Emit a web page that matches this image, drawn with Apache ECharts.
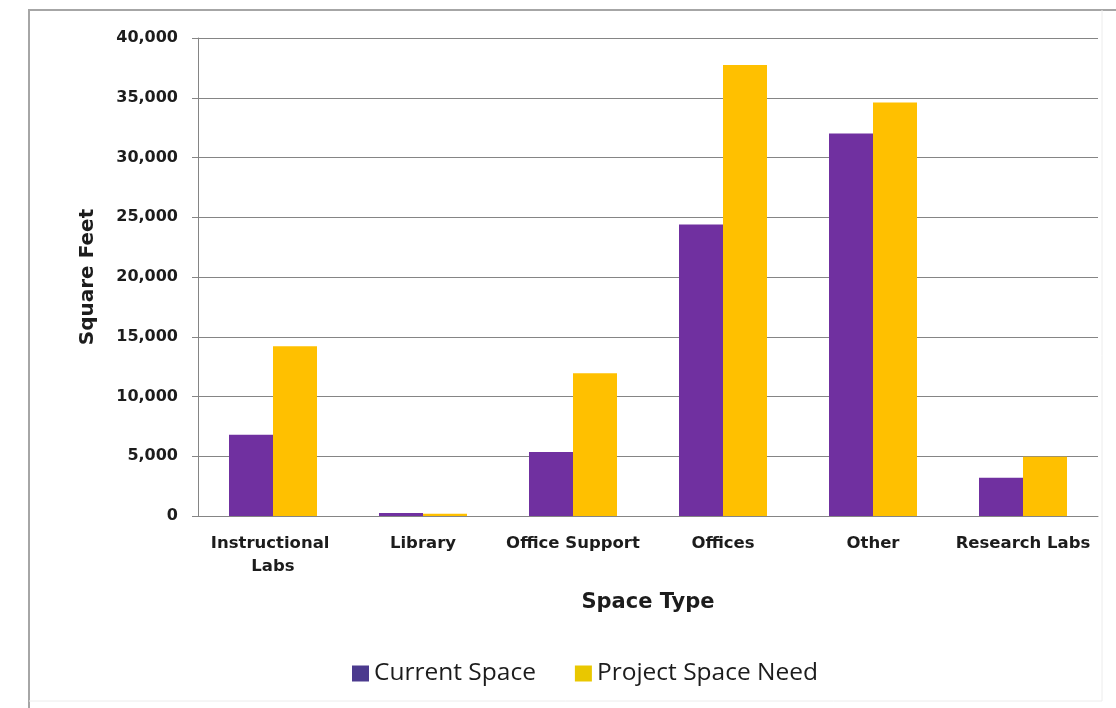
<!DOCTYPE html>
<html>
<head>
<meta charset="utf-8">
<title>Space Type — Square Feet</title>
<script src="https://cdn.jsdelivr.net/npm/echarts@6/dist/echarts.min.js"></script>
<style>
  html, body { margin: 0; padding: 0; background: #ffffff; }
  #chart { width: 1116px; height: 708px; }
</style>
</head>
<body>
<div id="chart"></div>
<script>
// Space categories on the x axis
const categories = ['Instructional Labs', 'Library', 'Office Support', 'Offices', 'Other', 'Research Labs'];

// Square feet per category
const currentSpace = [6800, 250, 5350, 24400, 32000, 3200];
const projectSpaceNeed = [14200, 180, 11950, 37750, 34600, 4950];

// Series names shown in the legend
const seriesNames = ['Current Space', 'Project Space Need'];

// Value axis range
const yMin = 0;
const yMax = 40000;
const yStep = 5000;

const PURPLE = '#7030A0';
const GOLD = '#FFC000';
const TEXT = '#1c1c1c';
const GRID_LINE = '#858585';

const chart = echarts.init(document.getElementById('chart'), null, { renderer: 'canvas' });

const option = {
  backgroundColor: '#ffffff',
  animation: false,
  graphic: [
    // chart-area border: solid on left and top, faint on right and bottom
    { type: 'polyline', silent: true,
      shape: { points: [[29, 708], [29, 10], [1116, 10]] },
      style: { stroke: '#a6a6a6', lineWidth: 2, fill: null } },
    { type: 'polyline', silent: true,
      shape: { points: [[1102, 10], [1102, 701], [29, 701]] },
      style: { stroke: '#ececec', lineWidth: 1, fill: null } }
  ],
  grid: { left: 198, top: 38, width: 900, height: 478 },
  legend: {
    data: [
      { name: seriesNames[0], itemStyle: { color: '#4b3a8e' } },
      { name: seriesNames[1], itemStyle: { color: '#e9c700' } }
    ],
    left: 352,
    top: 661,
    padding: 0,
    icon: 'rect',
    itemWidth: 17,
    itemHeight: 16,
    itemGap: 39,
    textStyle: { fontFamily: 'Open Sans', fontSize: 24.5, color: TEXT }
  },
  xAxis: {
    type: 'category',
    data: categories,
    name: 'Space Type',
    nameLocation: 'middle',
    nameGap: 76,
    nameTextStyle: { fontFamily: 'DejaVu Sans', fontWeight: 'bold', fontSize: 21, color: TEXT },
    axisLine: { show: true, lineStyle: { color: GRID_LINE, width: 1 } },
    axisTick: { show: false },
    axisLabel: {
      margin: 16,
      interval: 0,
      fontFamily: 'DejaVu Sans',
      fontWeight: 'bold',
      fontSize: 16.5,
      lineHeight: 23,
      color: TEXT,
      width: 148,
      overflow: 'break'
    }
  },
  yAxis: {
    type: 'value',
    min: yMin,
    max: yMax,
    interval: yStep,
    name: 'Square Feet',
    nameLocation: 'middle',
    nameGap: 100,
    nameTextStyle: { fontFamily: 'DejaVu Sans', fontWeight: 'bold', fontSize: 20, color: TEXT },
    axisLine: { show: true, lineStyle: { color: GRID_LINE, width: 1 } },
    axisTick: { show: true, length: 6, lineStyle: { color: GRID_LINE } },
    axisLabel: {
      margin: 20,
      fontFamily: 'DejaVu Sans',
      fontWeight: 'bold',
      fontSize: 16,
      color: TEXT,
      formatter: v => v.toLocaleString('en-US')
    },
    splitLine: { show: true, lineStyle: { color: GRID_LINE, width: 1 } }
  },
  series: [
    {
      name: seriesNames[0],
      type: 'bar',
      data: currentSpace,
      barWidth: 44,
      barGap: '0%',
      itemStyle: { color: PURPLE }
    },
    {
      name: seriesNames[1],
      type: 'bar',
      data: projectSpaceNeed,
      barWidth: 44,
      barGap: '0%',
      itemStyle: { color: GOLD }
    }
  ]
};

chart.setOption(option);
</script>
</body>
</html>
